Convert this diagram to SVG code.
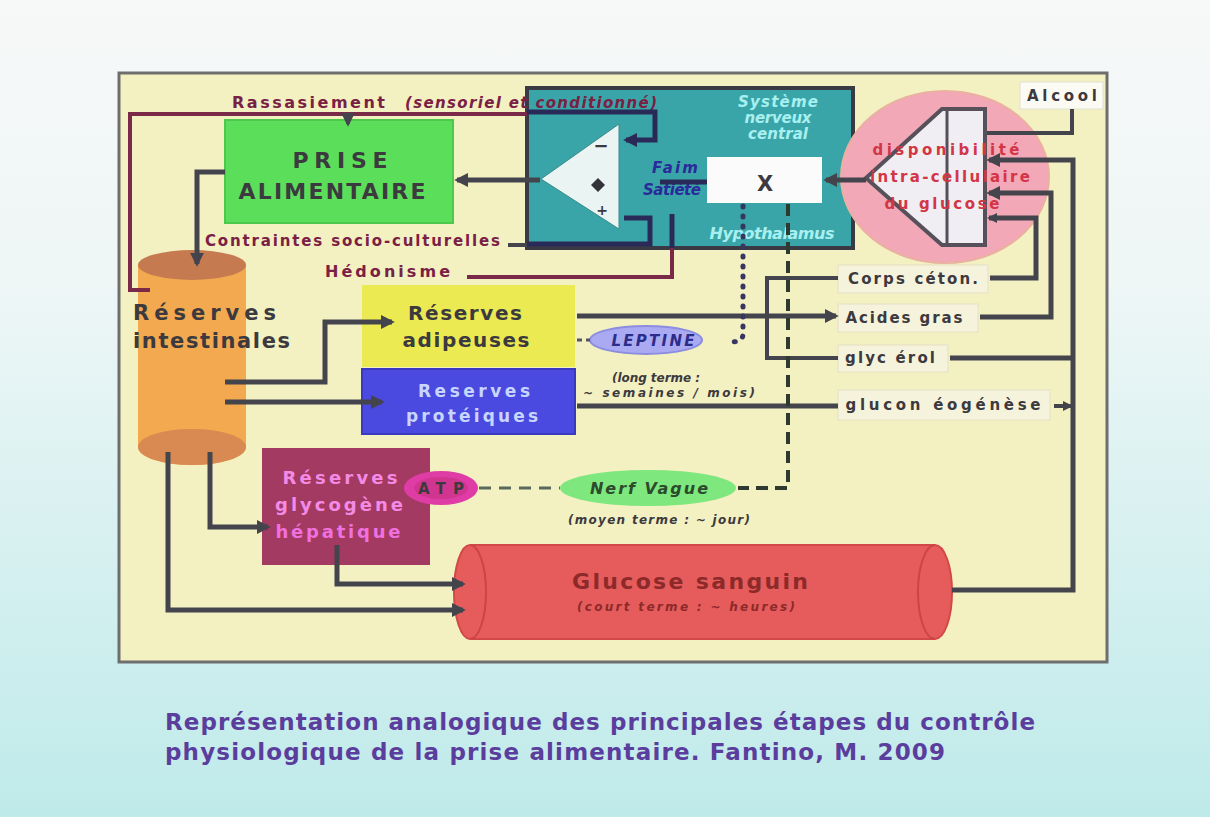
<svg xmlns="http://www.w3.org/2000/svg" width="1210" height="817" viewBox="0 0 1210 817">
<defs>
<linearGradient id="bg" x1="0" y1="0" x2="0" y2="1">
<stop offset="0" stop-color="#f7f8f8"/>
<stop offset="0.35" stop-color="#eef6f6"/>
<stop offset="1" stop-color="#bfeaea"/>
</linearGradient>
<marker id="ah" viewBox="0 0 10 10" refX="8" refY="5" markerWidth="14" markerHeight="14" markerUnits="userSpaceOnUse" orient="auto">
<path d="M0,0 L10,5 L0,10 Z" fill="#44444c"/>
</marker>
<marker id="ahb" viewBox="0 0 10 10" refX="8" refY="5" markerWidth="14" markerHeight="14" markerUnits="userSpaceOnUse" orient="auto">
<path d="M0,0 L10,5 L0,10 Z" fill="#2a2a58"/>
</marker>
<marker id="ahs" viewBox="0 0 10 10" refX="8" refY="5" markerWidth="10" markerHeight="10" markerUnits="userSpaceOnUse" orient="auto">
<path d="M0,0 L10,5 L0,10 Z" fill="#44444c"/>
</marker>
</defs>
<style>
text{font-family:"DejaVu Sans","Liberation Sans",Arial,sans-serif;font-weight:bold}
.dk{fill:#3c3a3e}
.lbl{fill:#7a2044}
.line{fill:none;stroke:#44444c;stroke-width:5;stroke-linejoin:miter}
.thin{fill:none;stroke:#44444c;stroke-width:4}
.mar{fill:none;stroke:#7a2a48;stroke-width:4}
.navy{fill:none;stroke:#2a2a58;stroke-width:5}
.it{font-style:italic}
.box{fill:#f6f3dc;stroke:#e4e0c4;stroke-width:1}
</style>
<rect x="0" y="0" width="1210" height="817" fill="url(#bg)"/>
<rect id="panel" x="119" y="73" width="988" height="589" fill="#f3f0c2" stroke="#6e6e6e" stroke-width="3"/>

<g id="cns">
<rect x="527" y="88" width="326" height="160" fill="#3aa5a8" stroke="#3a3a44" stroke-width="4"/>
<text x="778" y="107" font-size="15" class="it" fill="#a8f0f0" text-anchor="middle" textLength="80" lengthAdjust="spacing">Système</text>
<text x="778" y="123" font-size="15" class="it" fill="#a8f0f0" text-anchor="middle" textLength="67" lengthAdjust="spacing">nerveux</text>
<text x="778" y="139" font-size="15" class="it" fill="#a8f0f0" text-anchor="middle" textLength="60" lengthAdjust="spacing">central</text>
<text x="772" y="239" font-size="16" class="it" fill="#a8f0f0" text-anchor="middle" textLength="125" lengthAdjust="spacing">Hypothalamus</text>
<path d="M541,179 L619,124 L619,229 Z" fill="#eaf4f2" stroke="#3a8a8c" stroke-width="1"/>
<text x="601" y="152" font-size="18" class="dk" text-anchor="middle">−</text>
<path d="M598,178 L605,185 L598,192 L591,185 Z" fill="#33333a"/>
<text x="602" y="215" font-size="14" class="dk" text-anchor="middle">+</text>
<rect x="707" y="157" width="115" height="46" fill="#fbfbfb"/>
<text x="765" y="191" font-size="21" class="dk" text-anchor="middle">X</text>
<text x="675" y="173" font-size="15" class="it" fill="#2a2a9a" text-anchor="middle" textLength="46" lengthAdjust="spacing">Faim</text>
<text x="672" y="195" font-size="15" class="it" fill="#2a2a9a" text-anchor="middle" textLength="58" lengthAdjust="spacing">Satiété</text>
</g>

<g id="prise">
<rect x="225" y="120" width="228" height="103" fill="#5bdf5b" stroke="#4cc84c" stroke-width="2"/>
<text x="340" y="168" font-size="22" class="dk" text-anchor="middle" textLength="95" lengthAdjust="spacing">PRISE</text>
<text x="332" y="199" font-size="22" class="dk" text-anchor="middle" textLength="187" lengthAdjust="spacing">ALIMENTAIRE</text>
</g>

<g id="glucose-intra">
<ellipse cx="945" cy="177" rx="104" ry="86" fill="#f2a8b6" stroke="#eab0a0" stroke-width="2"/>
<path d="M866,178 L942,109 L985,109 L985,245 L942,245 Z" fill="#f0eef2" stroke="#55505a" stroke-width="4"/>
<line x1="947" y1="109" x2="947" y2="245" stroke="#55505a" stroke-width="3"/>
<text x="946" y="155" font-size="15" fill="#d23646" text-anchor="middle" textLength="147" lengthAdjust="spacing">disponibilité</text>
<text x="950" y="182" font-size="15" fill="#d23646" text-anchor="middle" textLength="160" lengthAdjust="spacing">intra-cellulaire</text>
<text x="942" y="209" font-size="15" fill="#d23646" text-anchor="middle" textLength="115" lengthAdjust="spacing">du glucose</text>
</g>

<g id="alcool">
<rect x="1020" y="82" width="83" height="27" fill="#fbfbf4" stroke="#e0e0d0"/>
<text x="1062" y="101" font-size="15" class="dk" text-anchor="middle" textLength="70" lengthAdjust="spacing">Alcool</text>
</g>

<g id="intestinales">
<path d="M138,265 V447 A54,18 0 0 0 246,447 V265 Z" fill="#f2a94f"/>
<ellipse cx="192" cy="447" rx="54" ry="18" fill="#d98a52"/>
<ellipse cx="192" cy="265" rx="54" ry="15" fill="#c67a50"/>
<text x="133" y="320" font-size="21" class="dk" textLength="143" lengthAdjust="spacing">Réserves</text>
<text x="133" y="348" font-size="21" class="dk" textLength="157" lengthAdjust="spacing">intestinales</text>
</g>

<g id="adipeuses">
<rect x="362" y="285" width="213" height="82" fill="#ecea52"/>
<text x="465" y="320" font-size="20" class="dk" text-anchor="middle" textLength="114" lengthAdjust="spacing">Réserves</text>
<text x="466" y="347" font-size="20" class="dk" text-anchor="middle" textLength="127" lengthAdjust="spacing">adipeuses</text>
</g>

<g id="proteiques">
<rect x="362" y="369" width="213" height="65" fill="#4a4ae0" stroke="#3a3ac0" stroke-width="2"/>
<text x="474" y="397" font-size="17" fill="#c8d6ff" text-anchor="middle" textLength="112" lengthAdjust="spacing">Reserves</text>
<text x="472" y="422" font-size="17" fill="#c8d6ff" text-anchor="middle" textLength="132" lengthAdjust="spacing">protéiques</text>
</g>

<g id="glycogene">
<rect x="262" y="448" width="168" height="117" fill="#a23a62"/>
<text x="340" y="484" font-size="18" fill="#f48ae6" text-anchor="middle" textLength="115" lengthAdjust="spacing">Réserves</text>
<text x="339" y="511" font-size="18" fill="#f48ae6" text-anchor="middle" textLength="128" lengthAdjust="spacing">glycogène</text>
<text x="338" y="538" font-size="18" fill="#f070e0" text-anchor="middle" textLength="125" lengthAdjust="spacing">hépatique</text>
</g>

<g id="atp">
<ellipse cx="441" cy="488" rx="37" ry="17" fill="#e03ca6"/>
<ellipse cx="441" cy="488" rx="27" ry="11" fill="#c0307a" opacity="0.5"/>
<text x="441" y="494" font-size="15" class="dk" text-anchor="middle" textLength="46" lengthAdjust="spacing">ATP</text>
</g>

<g id="leptine">
<ellipse cx="646" cy="340" rx="56" ry="14" fill="#aaaaf2" stroke="#8c8ce0" stroke-width="2"/>
<text x="653" y="346" font-size="15" class="it" fill="#2c2c8a" text-anchor="middle" textLength="83" lengthAdjust="spacing">LEPTINE</text>
<text x="656" y="382" font-size="12" class="it dk" text-anchor="middle" textLength="88" lengthAdjust="spacing">(long terme :</text>
<text x="669" y="397" font-size="12" class="it dk" text-anchor="middle" textLength="172" lengthAdjust="spacing">~ semaines / mois)</text>
</g>

<g id="nerf">
<ellipse cx="648" cy="488" rx="88" ry="18" fill="#7ee87e"/>
<text x="649" y="494" font-size="16" class="it" fill="#2c4a2c" text-anchor="middle" textLength="118" lengthAdjust="spacing">Nerf  Vague</text>
<text x="659" y="524" font-size="12" class="it dk" text-anchor="middle" textLength="182" lengthAdjust="spacing">(moyen terme : ~ jour)</text>
</g>

<g id="glucose-sanguin">
<path d="M470,545 H935 A17,47 0 0 1 935,639 H470 A16,47 0 0 1 470,545 Z" fill="#e65c5c" stroke="#d24848" stroke-width="2"/>
<path d="M470,545 A16,47 0 0 1 470,639" fill="none" stroke="#cc4444" stroke-width="2"/>
<path d="M935,545 A17,47 0 0 0 935,639" fill="none" stroke="#cc4444" stroke-width="2"/>
<text x="690" y="589" font-size="22" fill="#8c2a2a" text-anchor="middle" textLength="236" lengthAdjust="spacing">Glucose  sanguin</text>
<text x="686" y="611" font-size="12" class="it" fill="#8c2a2a" text-anchor="middle" textLength="218" lengthAdjust="spacing">(court terme : ~ heures)</text>
</g>

<g id="corps">
<rect x="838" y="265" width="150" height="28" class="box"/>
<text x="913" y="284" font-size="15" class="dk" text-anchor="middle" textLength="130" lengthAdjust="spacing">Corps  céton.</text>
</g>
<g id="acides">
<rect x="838" y="304" width="140" height="28" class="box"/>
<text x="904" y="323" font-size="15" class="dk" text-anchor="middle" textLength="117" lengthAdjust="spacing">Acides gras</text>
</g>
<g id="glycerol">
<rect x="838" y="345" width="110" height="27" class="box"/>
<text x="890" y="363" font-size="15" class="dk" text-anchor="middle" textLength="90" lengthAdjust="spacing">glyc érol</text>
</g>
<g id="gluconeo">
<rect x="838" y="390" width="212" height="30" class="box"/>
<text x="943" y="410" font-size="15" class="dk" text-anchor="middle" textLength="195" lengthAdjust="spacing">glucon éogénèse</text>
</g>

<g id="labels">
<text x="232" y="108" font-size="16" class="lbl" textLength="153" lengthAdjust="spacing">Rassasiement</text>
<text x="405" y="108" font-size="15" class="lbl it" textLength="252" lengthAdjust="spacing">(sensoriel et conditionné)</text>
<text x="205" y="246" font-size="15" class="lbl" textLength="295" lengthAdjust="spacing">Contraintes socio-culturelles</text>
<text x="325" y="277" font-size="16" class="lbl" textLength="125" lengthAdjust="spacing">Hédonisme</text>
</g>

<g id="connectors">
<path class="mar" d="M527,114 H130 V290 H150"/>
<path d="M348,114 V124" stroke="#7a2a48" stroke-width="4" marker-end="url(#ah)"/>
<path class="navy" d="M527,112 H655 V140 H626" marker-end="url(#ahb)"/>
<path class="line" d="M540,180 H457" marker-end="url(#ah)"/>
<path class="line" d="M225,172 H197 V264" marker-end="url(#ah)"/>
<path class="thin" d="M508,245 H527" stroke="#3a3a44"/>
<path class="navy" d="M527,244 H650 V218 H624"/>
<path class="mar" d="M467,277 H672 V248"/>
<path class="navy" d="M672,248 V214"/>
<path class="navy" d="M707,182 H660" stroke="#2a2a9a"/>
<path class="line" d="M866,180 H826" marker-end="url(#ah)"/>
<path class="thin" d="M1072,109 V133 H987" stroke-width="3"/>
<path class="line" d="M952,590 H1073 V160 H989" marker-end="url(#ah)"/>
<path class="line" d="M980,317 H1051 V193 H989" marker-end="url(#ah)"/>
<path class="line" d="M990,278 H1036 V218 H989" stroke-width="4" marker-end="url(#ahs)"/>
<path class="line" d="M950,358 H1073"/>
<path class="thin" d="M1054,406 H1071" marker-end="url(#ahs)"/>
<path class="line" d="M577,316 H836" marker-end="url(#ah)"/>
<path class="thin" d="M838,278 H767 V358 H838"/>
<path class="line" d="M577,406 H838"/>
<path d="M743,206 V334 Q743,341 733,342" fill="none" stroke="#363660" stroke-width="5" stroke-linecap="round" stroke-dasharray="1 9"/>
<path d="M788,204 V488 H738" fill="none" stroke="#2e3a2e" stroke-width="4" stroke-dasharray="12 7"/>
<path d="M479,488 H560" fill="none" stroke="#5a6a5a" stroke-width="3" stroke-dasharray="12 8"/>
<path d="M577,340 H590" fill="none" stroke="#55555c" stroke-width="3" stroke-dasharray="5 4"/>
<path class="line" d="M225,382 H325 V322 H392" marker-end="url(#ah)"/>
<path class="line" d="M225,402 H382" marker-end="url(#ah)"/>
<path class="line" d="M168,452 V610 H463" marker-end="url(#ah)"/>
<path class="line" d="M210,452 V527 H268" marker-end="url(#ah)"/>
<path class="line" d="M337,545 V584 H463" marker-end="url(#ah)"/>
</g>

<g id="caption">
<text x="165" y="730" font-size="23" fill="#5a3d9c" textLength="870" lengthAdjust="spacing">Représentation analogique des principales étapes du contrôle</text>
<text x="165" y="760" font-size="23" fill="#5a3d9c" textLength="780" lengthAdjust="spacing">physiologique de la prise alimentaire. Fantino, M. 2009</text>
</g>
</svg>
